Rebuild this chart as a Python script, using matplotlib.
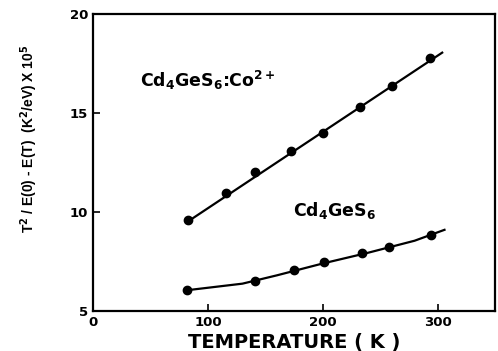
import matplotlib.pyplot as plt

plt.rcParams['font.family'] = ['DejaVu Sans']
plt.rcParams['mathtext.fontset'] = 'custom'
plt.rcParams['mathtext.rm'] = 'DejaVu Sans:bold'
plt.rcParams['mathtext.it'] = 'DejaVu Sans:bold'
plt.rcParams['mathtext.bf'] = 'DejaVu Sans:bold'

# Cd4GeS6:Co2+ data
t_co = [83, 116, 141, 172, 200, 232, 260, 293]
y_co = [9.6, 10.95, 12.0, 13.1, 14.0, 15.3, 16.35, 17.8]
# straight fit line
fit_t_co = [82, 304]
fit_y_co = [9.5, 18.05]

# Cd4GeS6 data
t_pure = [82, 141, 175, 201, 234, 258, 294]
y_pure = [6.05, 6.5, 7.07, 7.45, 7.92, 8.25, 8.85]
# smooth fit through points
fit_t_pure = [82, 130, 160, 200, 240, 280, 306]
fit_y_pure = [6.05, 6.38, 6.8, 7.4, 7.95, 8.55, 9.1]

fig = plt.figure(figsize=(4.98, 3.51), dpi=100)
ax = fig.add_axes([0.187, 0.114, 0.807, 0.846])

ax.plot(fit_t_co, fit_y_co, color='black', lw=1.6)
ax.plot(t_co, y_co, 'o', color='black', ms=6)
ax.plot(fit_t_pure, fit_y_pure, color='black', lw=1.6)
ax.plot(t_pure, y_pure, 'o', color='black', ms=6)

ax.text(41, 16.67, r'Cd$_4$GeS$_6$:Co$^{2+}$', fontsize=12.5, fontweight='bold',
        va='center')
ax.text(174, 10.1, r'Cd$_4$GeS$_6$', fontsize=12.5, fontweight='bold',
        va='center')

ax.set_xlim(0, 350)
ax.set_ylim(5, 20)
ax.set_xticks([0, 100, 200, 300])
ax.set_yticks([5, 10, 15, 20])
ax.tick_params(direction='in', length=5, width=1.2, labelsize=9.5)
for lbl in ax.get_xticklabels() + ax.get_yticklabels():
    lbl.set_fontweight('bold')
for sp in ax.spines.values():
    sp.set_linewidth(1.6)

ax.set_xlabel('TEMPERATURE ( K )', fontsize=14, fontweight='bold', labelpad=3)
ax.set_ylabel(r'T$^2$ / E(0) - E(T)  (K$^2$/eV) X 10$^5$', fontsize=10,
              fontweight='bold', family='Liberation Sans')
ax.yaxis.set_label_coords(-0.132, 0.58)

fig.savefig('out.png', dpi=100)
